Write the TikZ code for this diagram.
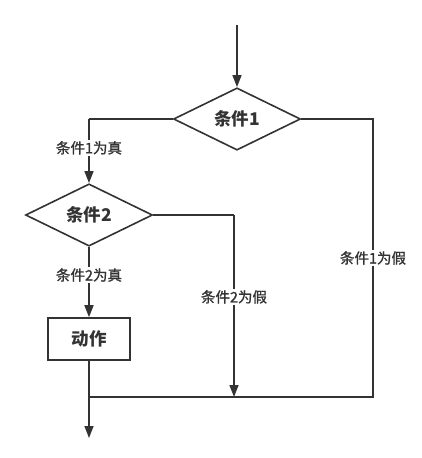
\documentclass[tikz,border=0pt]{standalone}
\usepackage{fontspec}
\setmainfont{Noto Sans CJK SC}
\newfontfamily\tagfont{Noto Sans CJK SC}[FakeBold=1.2]
\usepackage{xcolor}
\usetikzlibrary{arrows.meta,shapes.geometric,positioning}
\definecolor{ink}{HTML}{333333}

\begin{document}
\begin{tikzpicture}[x=1pt,y=-1pt]
  \tikzstyle{decision} = [diamond, draw=ink, line width=1.6pt, inner sep=0pt,
  minimum width=127pt, minimum height=58pt, font=\fontsize{17.5}{18}\selectfont\bfseries, text=ink]
  \tikzstyle{block} = [rectangle, draw=ink, line width=1.6pt, inner sep=0pt,
  minimum width=82pt, minimum height=42pt, font=\fontsize{17.5}{18}\selectfont\bfseries, text=ink]
  \tikzstyle{tag} = [fill=white, inner sep=1pt, font=\fontsize{14.5}{15}\tagfont, text=ink]
  \tikzstyle{line} = [draw=ink, line width=1.6pt]
  \tikzstyle{arrow} = [line, -{Triangle[width=9pt,length=12pt]}]
\useasboundingbox (0,0) rectangle (422,458);
\coordinate (start) at (237,25);
\node [decision] (c1) at (237,119) {条件1};
\node [decision] (c2) at (89,215) {条件2};
\node [block] (act) at (89,339) {动作};
\coordinate (l1) at (89,119);
\coordinate (r1) at (373,119);
\coordinate (r2) at (234,215);
\coordinate (m2) at (234,397);
\coordinate (j1) at (373,397);
\coordinate (j0) at (89,397);
\coordinate (end) at (89,438);
\path [arrow] (start) -- (c1);
\path [line] (c1.west) -- (l1);
\path [arrow] (l1) -- node [tag, pos=0.45] {条件1为真} (c2);
\path [line] (c1.east) -- (r1) -- node [tag, pos=0.5] {条件1为假} (j1) -- (j0);
\path [line] (c2.east) -- (r2);
\path [arrow] (r2) -- node [tag, pos=0.45] {条件2为假} (m2);
\path [arrow] (c2) -- node [tag, pos=0.4] {条件2为真} (act);
\path [arrow] (act) -- (end);
\end{tikzpicture}
\end{document}
